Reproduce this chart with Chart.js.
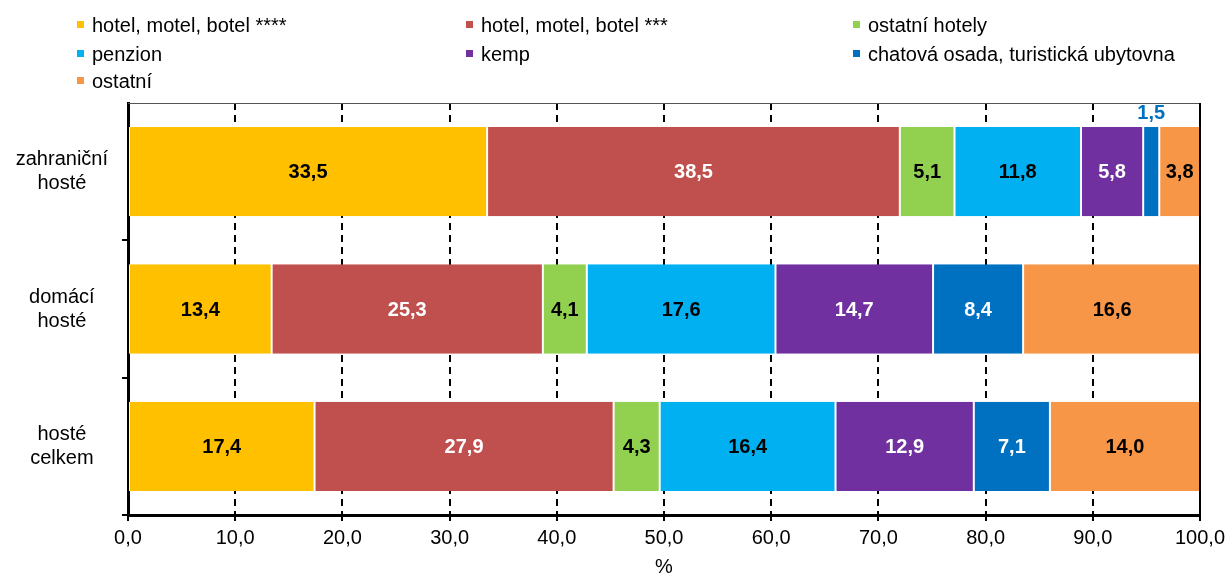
<!DOCTYPE html>
<html>
<head>
<meta charset="utf-8">
<script src="https://cdn.jsdelivr.net/npm/chart.js@4"></script>
<style>
  body { margin: 0; background: #fff; }
  #wrap { position: relative; width: 1225px; height: 579px; font-family: "Liberation Sans", Arial, sans-serif; }
  #legend { position: absolute; left: 0; top: 0; }
  .lg { position: absolute; font-size: 20px; line-height: 24px; color: #000; white-space: nowrap; }
  .lg i { position: absolute; left: 0; top: 8px; width: 7px; height: 7px; }
  .lg span { position: absolute; left: 15px; top: 0; }
  canvas { position: absolute; left: 0; top: 0; }
</style>
</head>
<body>
<div id="wrap">
  <canvas id="chart" width="1225" height="579"></canvas>
  <div id="legend"></div>
</div>
<script>
const categories = [["zahraniční", "hosté"], ["domácí", "hosté"], ["hosté", "celkem"]];
const seriesNames = [
  "hotel, motel, botel ****",
  "hotel, motel, botel ***",
  "ostatní hotely",
  "penzion",
  "kemp",
  "chatová osada, turistická ubytovna",
  "ostatní"
];
const hotel4 = [33.5, 13.4, 17.4];
const hotel3 = [38.5, 25.3, 27.9];
const otherHotels = [5.1, 4.1, 4.3];
const penzion = [11.8, 17.6, 16.4];
const kemp = [5.8, 14.7, 12.9];
const chatova = [1.5, 8.4, 7.1];
const other = [3.8, 16.6, 14.0];
const xTicks = [0, 10, 20, 30, 40, 50, 60, 70, 80, 90, 100];

const colors = ["#FFC000", "#C0504D", "#92D050", "#00B0F0", "#7030A0", "#0070C0", "#F79646"];
const labelColors = ["#000", "#fff", "#000", "#000", "#fff", "#fff", "#000"];
const allSeries = [hotel4, hotel3, otherHotels, penzion, kemp, chatova, other];

const FONT = "'Liberation Sans', Arial, sans-serif";
const fmt = v => Number(v).toFixed(1).replace(".", ",");

// legend, 3 columns like the original
const legendCols = [77, 466, 853];
const legendRows = [13, 42, 69];
const legendEl = document.getElementById("legend");
seriesNames.forEach((name, i) => {
  const d = document.createElement("div");
  d.className = "lg";
  d.style.left = legendCols[i % 3] + "px";
  d.style.top = legendRows[Math.floor(i / 3)] + "px";
  d.innerHTML = `<i style="background:${colors[i]}"></i><span>${name}</span>`;
  legendEl.appendChild(d);
});

const valueLabels = {
  id: "valueLabels",
  afterDatasetsDraw(chart) {
    const ctx = chart.ctx;
    ctx.save();
    ctx.font = `bold 20px ${FONT}`;
    ctx.textAlign = "center";
    ctx.textBaseline = "middle";
    chart.data.datasets.forEach((ds, di) => {
      chart.getDatasetMeta(di).data.forEach((bar, i) => {
        const v = ds.data[i];
        const cx = (bar.x + bar.base) / 2;
        if (v < 2) {
          ctx.fillStyle = colors[di];
          ctx.fillText(fmt(v), cx, bar.y - bar.height / 2 - 14);
        } else {
          ctx.fillStyle = labelColors[di];
          ctx.fillText(fmt(v), cx, bar.y + 1);
        }
      });
    });
    ctx.restore();
  }
};

const frame = {
  id: "frame",
  afterDraw(chart) {
    const { ctx, chartArea: a } = chart;
    ctx.save();
    ctx.strokeStyle = "#555";
    ctx.lineWidth = 1;
    ctx.beginPath();
    ctx.moveTo(a.left, a.top + 0.5);
    ctx.lineTo(a.right, a.top + 0.5);
    ctx.stroke();
    ctx.strokeStyle = "#000";
    ctx.lineWidth = 2;
    ctx.beginPath();
    ctx.moveTo(a.right, a.top);
    ctx.lineTo(a.right, a.bottom);
    ctx.stroke();
    ctx.restore();
  }
};

new Chart(document.getElementById("chart"), {
  type: "bar",
  data: {
    labels: categories,
    datasets: seriesNames.map((name, i) => ({
      label: name,
      data: allSeries[i],
      backgroundColor: colors[i],
      borderColor: "#fff",
      borderWidth: { left: 1, right: 1, top: 0, bottom: 0 },
      borderSkipped: false,
      barPercentage: 0.65,
      categoryPercentage: 1
    }))
  },
  options: {
    indexAxis: "y",
    responsive: false,
    animation: false,
    layout: { padding: { top: 103, right: 25, left: 0, bottom: 0 } },
    plugins: { legend: { display: false }, tooltip: { enabled: false } },
    scales: {
      x: {
        stacked: true,
        min: 0,
        max: 100,
        afterBuildTicks: s => { s.ticks = xTicks.map(v => ({ value: v })); },
        afterFit: s => { s.height = 64; s.paddingLeft = 0; s.paddingRight = 0; },
        ticks: { color: "#000", font: { size: 20, family: FONT }, padding: 5, callback: v => fmt(v), maxRotation: 0 },
        grid: { color: "#000", lineWidth: 2, tickLength: 6, tickColor: "#000", tickWidth: 2 },
        border: { display: true, color: "#000", width: 3, dash: [7, 5] },
        title: { display: true, text: "%", color: "#000", font: { size: 20, family: FONT }, padding: { top: 0, bottom: 0 } }
      },
      y: {
        stacked: true,
        afterFit: s => { s.width = 128; s.paddingTop = 0; s.paddingBottom = 0; },
        ticks: { color: "#000", font: { size: 20, family: FONT }, padding: 14, crossAlign: "center" },
        grid: {
          drawOnChartArea: false,
          color: c => (c.index === 0 ? "rgba(0,0,0,0)" : "#000"),
          lineWidth: 2,
          tickLength: 6
        },
        border: { display: true, color: "#000", width: 3 }
      }
    }
  },
  plugins: [valueLabels, frame]
});
</script>
</body>
</html>
